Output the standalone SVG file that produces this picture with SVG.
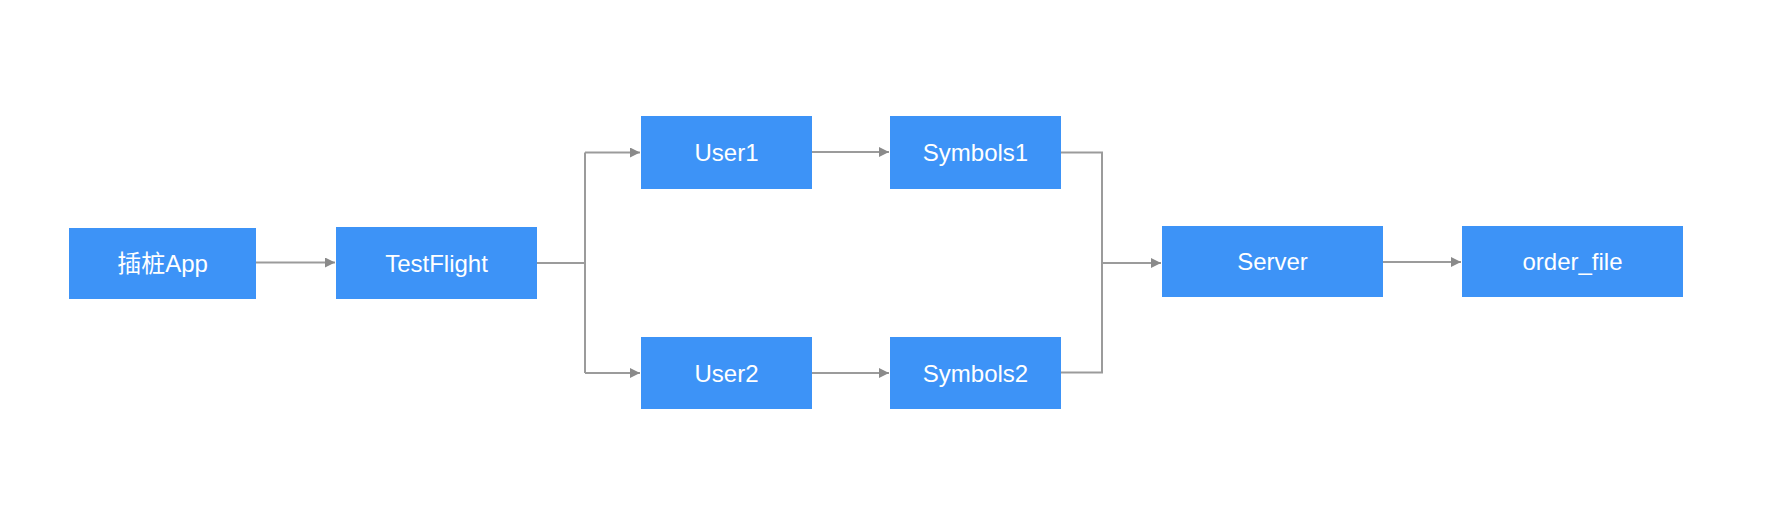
<svg xmlns="http://www.w3.org/2000/svg" width="1772" height="508" viewBox="0 0 1772 508">
  <style>
    .box { fill: #3d93f7; }
    .lbl { fill: #ffffff; font-family: "Liberation Sans", "Noto Sans CJK SC", sans-serif; font-size: 24px; text-anchor: middle; dominant-baseline: central; }
    .edge { fill: none; stroke: #9b9b9b; stroke-width: 2; }
  </style>
  <defs>
    <marker id="arrow" viewBox="0 0 10 10" refX="10" refY="5" markerWidth="10" markerHeight="10" markerUnits="userSpaceOnUse" orient="auto">
      <path d="M0,0 L10,5 L0,10 Z" fill="#8a8a8a"/>
    </marker>
  </defs>
  <rect width="1772" height="508" fill="#ffffff"/>
  <g id="connectors">
    <path class="edge" d="M256,262.5 H335" marker-end="url(#arrow)"/>
    <path class="edge" d="M537,263 H585 M585,152.5 V373"/>
    <path class="edge" d="M585,152.5 H640" marker-end="url(#arrow)"/>
    <path class="edge" d="M585,373 H640" marker-end="url(#arrow)"/>
    <path class="edge" d="M812,152 H889" marker-end="url(#arrow)"/>
    <path class="edge" d="M812,373 H889" marker-end="url(#arrow)"/>
    <path class="edge" d="M1061,152.5 H1102 V372.5 H1061"/>
    <path class="edge" d="M1102,263 H1161" marker-end="url(#arrow)"/>
    <path class="edge" d="M1383,262 H1461" marker-end="url(#arrow)"/>
  </g>
  <g id="node-app">
    <rect class="box" x="69" y="228" width="187" height="71"/>
    <text class="lbl" x="162.5" y="263.5">插桩App</text>
  </g>
  <g id="node-testflight">
    <rect class="box" x="336" y="227" width="201" height="72"/>
    <text class="lbl" x="436.5" y="263">TestFlight</text>
  </g>
  <g id="node-user1">
    <rect class="box" x="641" y="116" width="171" height="73"/>
    <text class="lbl" x="726.5" y="152.5">User1</text>
  </g>
  <g id="node-symbols1">
    <rect class="box" x="890" y="116" width="171" height="73"/>
    <text class="lbl" x="975.5" y="152.5">Symbols1</text>
  </g>
  <g id="node-user2">
    <rect class="box" x="641" y="337" width="171" height="72"/>
    <text class="lbl" x="726.5" y="373">User2</text>
  </g>
  <g id="node-symbols2">
    <rect class="box" x="890" y="337" width="171" height="72"/>
    <text class="lbl" x="975.5" y="373">Symbols2</text>
  </g>
  <g id="node-server">
    <rect class="box" x="1162" y="226" width="221" height="71"/>
    <text class="lbl" x="1272.5" y="261.5">Server</text>
  </g>
  <g id="node-orderfile">
    <rect class="box" x="1462" y="226" width="221" height="71"/>
    <text class="lbl" x="1572.5" y="261.5">order_file</text>
  </g>
</svg>
